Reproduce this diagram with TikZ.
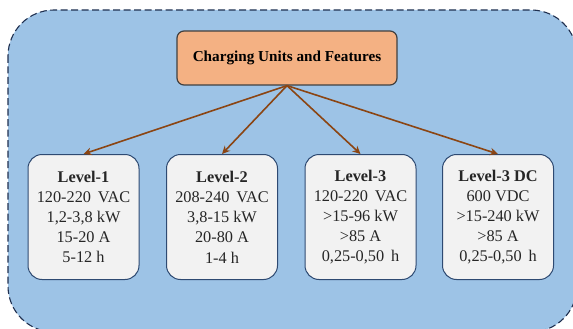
\documentclass[tikz,border=0pt]{standalone}
\usepackage{fontspec}
\setmainfont{Liberation Serif}
\usetikzlibrary{arrows.meta}
\definecolor{panelblue}{HTML}{9DC3E6}
\definecolor{paneledge}{HTML}{203050}
\definecolor{headfill}{HTML}{F4B183}
\definecolor{headedge}{HTML}{404040}
\definecolor{cardfill}{HTML}{F2F2F2}
\definecolor{cardedge}{HTML}{2E4A72}
\definecolor{linkbrown}{HTML}{8B4513}
\definecolor{cardtext}{HTML}{262626}
\tikzset{
  panel/.style={draw=paneledge, fill=panelblue, line width=1.1pt,
    dash pattern=on 7pt off 3.5pt, rounded corners=46pt},
  headbox/.style={draw=headedge, fill=headfill, line width=1.2pt,
    rounded corners=7pt, minimum width=220pt, minimum height=54pt,
    inner sep=0pt, font=\fontsize{15.2}{17}\selectfont\bfseries},
  card/.style={draw=cardedge, fill=cardfill, line width=1pt,
    rounded corners=14pt, minimum width=111pt, minimum height=125pt,
    inner sep=0pt, align=center, text=cardtext,
    font=\fontsize{16.3}{20.2}\selectfont},
  link/.style={draw=linkbrown, line width=1.6pt,
    -{Stealth[length=8pt,width=7.5pt]}}
}
\begin{document}
\begin{tikzpicture}[x=1pt,y=-1pt]
  \useasboundingbox (0,0) rectangle (573,329);
  \path[panel] (8,10) rectangle (577,332);
  \node[headbox] (head) at (287,58) {Charging Units and Features};
  \node[card] (l1) at (83.5,217) {\textbf{Level-1}\\120-220 \,VAC\\1,2-3,8 kW\\15-20 A\\5-12 h};
  \node[card] (l2) at (222,217) {\textbf{Level-2}\\208-240 \,VAC\\3,8-15 kW\\20-80 A\\1-4 h};
  \node[card] (l3) at (360.5,217) {\textbf{Level-3}\\120-220 \,VAC\\>15-96 kW\\>85 A\\0,25-0,50 \,h};
  \node[card] (l4) at (498,217) {\textbf{Level-3 DC}\\600 VDC\\>15-240 kW\\>85 A\\0,25-0,50 \,h};
  \foreach \t in {l1,l2,l3,l4}
    \draw[link] (head.south) -- (\t.north);
\end{tikzpicture}
\end{document}
